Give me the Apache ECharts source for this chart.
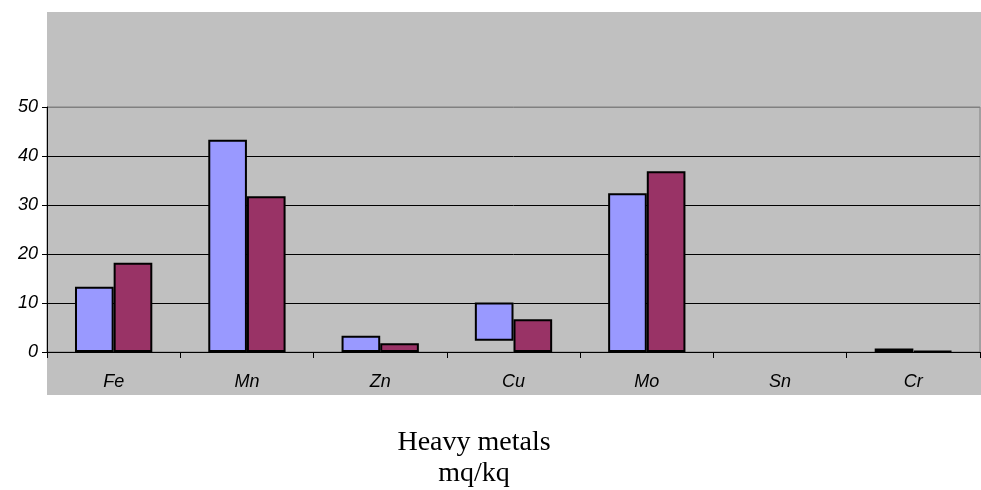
<!DOCTYPE html>
<html>
<head>
<meta charset="utf-8">
<script src="https://cdn.jsdelivr.net/npm/echarts@6/dist/echarts.min.js"></script>
<style>
  html, body { margin: 0; padding: 0; background: #fff; }
  #chart { width: 981px; height: 490px; }
</style>
</head>
<body>
<div id="chart"></div>
<script>
const categories = ['Fe', 'Mn', 'Zn', 'Cu', 'Mo', 'Sn', 'Cr'];
// first series: bar top and bar bottom (Cu bar floats)
const series1Top = [13.3, 43.3, 3.3, 10.1, 32.4, null, 0.7];
const series1Base = [0, 0, 0, 2.3, 0, null, 0];
const series2 = [18.2, 31.8, 1.8, 6.7, 36.9, null, 0.2];
const yTicks = [0, 10, 20, 30, 40, 50];
const titleLines = ['Heavy metals', 'mq/kq'];

const series1Height = series1Top.map((v, i) => v == null ? null : +(v - series1Base[i]).toFixed(2));

const titleFont = '"Liberation Serif", "Times New Roman", serif';
const chart = echarts.init(document.getElementById('chart'));
chart.setOption({
  animation: false,
  graphic: {
    elements: [{
      type: 'rect',
      z: -100,
      shape: { x: 47, y: 12, width: 934, height: 383 },
      style: { fill: '#C0C0C0' },
      silent: true
    }, {
      type: 'text',
      x: 474, y: 443,
      style: {
        text: titleLines[0], fontFamily: titleFont, fontSize: 28,
        fill: '#000', align: 'center', verticalAlign: 'middle'
      },
      silent: true
    }, {
      type: 'text',
      x: 474, y: 474,
      style: {
        text: titleLines[1], fontFamily: titleFont, fontSize: 28,
        fill: '#000', align: 'center', verticalAlign: 'middle'
      },
      silent: true
    }]
  },
  grid: {
    left: 47, right: 1, top: 107, bottom: 138,
    show: true, borderColor: '#808080', borderWidth: 1,
    backgroundColor: 'transparent',
    containLabel: false
  },
  xAxis: {
    type: 'category',
    data: categories,
    axisLine: { lineStyle: { color: '#000', width: 1 } },
    axisTick: { show: true, length: 6, lineStyle: { color: '#000' } },
    axisLabel: {
      color: '#000', fontStyle: 'italic', fontFamily: 'Arial, "Liberation Sans", sans-serif',
      fontSize: 18, margin: 21
    },
    splitLine: { show: false }
  },
  yAxis: {
    type: 'value',
    min: 0, max: 50, interval: 10,
    axisLine: { show: true, lineStyle: { color: '#000', width: 1 } },
    axisTick: { show: true, length: 5, lineStyle: { color: '#000' } },
    axisLabel: {
      color: '#000', fontStyle: 'italic', fontFamily: 'Arial, "Liberation Sans", sans-serif',
      fontSize: 18, margin: 9,
      formatter: v => yTicks.includes(v) ? String(v) : ''
    },
    splitLine: { show: true, lineStyle: { color: ['#000', '#000', '#000', '#000', '#000', '#808080'], width: 1 } }
  },
  series: [{
    type: 'bar',
    stack: 's1',
    data: series1Base,
    itemStyle: { color: 'transparent', borderWidth: 0 },
    barGap: '0%',
    barCategoryGap: '42%',
    silent: true
  }, {
    type: 'bar',
    stack: 's1',
    data: series1Height,
    itemStyle: { color: '#9999FF', borderColor: '#000', borderWidth: 2 },
    barGap: '0%',
    barCategoryGap: '42%'
  }, {
    type: 'bar',
    data: series2,
    itemStyle: { color: '#993366', borderColor: '#000', borderWidth: 2 },
    barGap: '0%',
    barCategoryGap: '42%'
  }]
});
</script>
</body>
</html>
